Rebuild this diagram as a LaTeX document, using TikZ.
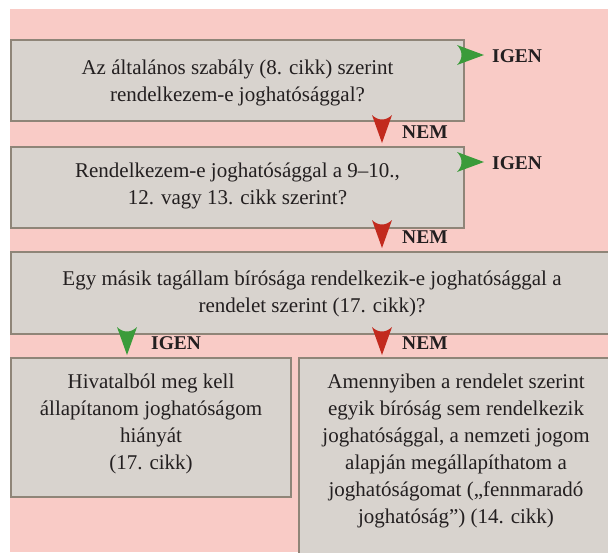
\documentclass[tikz,border=0pt]{standalone}
\usepackage{fontspec}
\setmainfont{Liberation Serif}
\definecolor{bgpink}{HTML}{F9CBC6}
\definecolor{boxgray}{HTML}{D8D3CE}
\definecolor{boxline}{HTML}{8F8578}
\definecolor{igengreen}{HTML}{3B9B3A}
\definecolor{nemred}{HTML}{C22A1E}
\definecolor{txt}{HTML}{231F20}
\begin{document}
\begin{tikzpicture}[x=1pt,y=-1pt,
  box/.style={draw=boxline, line width=1.2pt, fill=boxgray, inner sep=0pt},
  boxtext/.style={align=center, font=\fontsize{21}{27}\selectfont, text=txt, inner sep=0pt},
  lbl/.style={anchor=base west, font=\bfseries\fontsize{19.5}{21}\selectfont, text=txt, inner sep=0pt},
  downtri/.pic={\fill[pic actions] (-10,0) .. controls (-4,6) and (4,6) .. (10,0) -- (0,28) -- cycle;},
  righttri/.pic={\fill[pic actions] (0,-10) -- (27,0) -- (0,10) .. controls (6,4) and (6,-4) .. (0,-10) -- cycle;}
]
\useasboundingbox (0,0) rectangle (608,552);
\clip (0,0) rectangle (608,552);
\fill[bgpink] (10,9) rectangle (608,552);

% boxes
\node[box, minimum width=453pt, minimum height=81pt] (b1) at (237.5,80.5) {};
\node[box, minimum width=453pt, minimum height=81pt] (b2) at (237.5,187.5) {};
\node[box, minimum width=609pt, minimum height=82pt] (b3) at (315.5,293) {};
\node[box, minimum width=280pt, minimum height=139pt] (b4) at (151,427.5) {};
\node[box, minimum width=321pt, minimum height=212pt] (b5) at (459.5,464) {};

% texts
\node[boxtext] (t1) at (237.5,83) {Az általános szabály (8. cikk) szerint\\rendelkezem-e joghatósággal?};
\node[boxtext] (t2) at (237.5,185.5) {Rendelkezem-e joghatósággal a 9–10.,\\12. vagy 13. cikk szerint?};
\node[boxtext] (t3) at (312,294) {Egy másik tagállam bírósága rendelkezik-e joghatósággal a\\rendelet szerint (17. cikk)?};
\node[boxtext] (t4) at (151,423.5) {Hivatalból meg kell\\állapítanom joghatóságom\\hiányát\\(17. cikk)};
\node[boxtext] (t5) at (456,450.5) {Amennyiben a rendelet szerint\\egyik bíróság sem rendelkezik\\joghatósággal, a nemzeti jogom\\alapján megállapíthatom a\\joghatóságomat („fennmaradó\\joghatóság”) (14. cikk)};

% arrowheads
\path (457,55) pic[fill=igengreen] {righttri};
\path (457,162) pic[fill=igengreen] {righttri};
\path (382,115) pic[fill=nemred] {downtri};
\path (382,220) pic[fill=nemred] {downtri};
\path (382,327) pic[fill=nemred] {downtri};
\path (127,327) pic[fill=igengreen] {downtri};

% labels
\node[lbl] (l1) at (492,62) {IGEN};
\node[lbl] (l2) at (492,169) {IGEN};
\node[lbl] (l3) at (402,138) {NEM};
\node[lbl] (l4) at (402,243) {NEM};
\node[lbl] (l5) at (402,349) {NEM};
\node[lbl] (l6) at (151,349) {IGEN};
\end{tikzpicture}
\end{document}
